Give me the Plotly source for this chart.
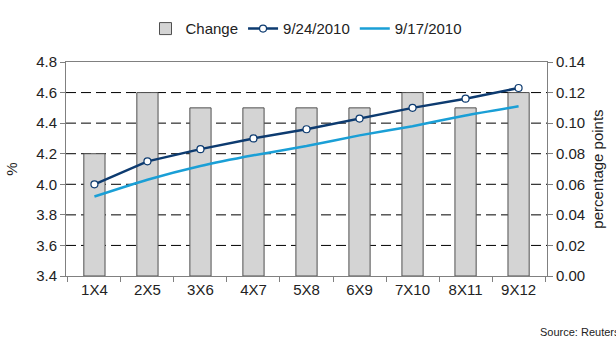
import plotly.graph_objects as go

categories = ["1X4", "2X5", "3X6", "4X7", "5X8", "6X9", "7X10", "8X11", "9X12"]
change = [0.08, 0.12, 0.11, 0.11, 0.11, 0.11, 0.12, 0.11, 0.12]
y_0924 = [4.00, 4.15, 4.23, 4.30, 4.36, 4.43, 4.50, 4.56, 4.63]
y_0917 = [3.92, 4.03, 4.12, 4.19, 4.25, 4.32, 4.38, 4.45, 4.51]
grid_levels = [3.6, 3.8, 4.0, 4.2, 4.4, 4.6]

FONT = "Liberation Sans, Arial, sans-serif"
AXIS = "#808080"

fig = go.Figure()
fig.add_trace(go.Scatter(
    x=categories, y=[None] * len(categories), yaxis="y", mode="lines",
    showlegend=False, hoverinfo="skip",
))
fig.add_trace(go.Bar(
    x=categories, y=change, name="Change", yaxis="y2",
    marker=dict(color="#d4d4d4", line=dict(color="#505050", width=1)),
    width=0.4,
))
fig.add_trace(go.Scatter(
    x=categories, y=y_0924, name="9/24/2010", yaxis="y3", mode="lines+markers",
    line=dict(color="#0d3b70", width=2.5),
    marker=dict(symbol="circle", size=7, color="white", line=dict(color="#0d3b70", width=1.2)),
))
fig.add_trace(go.Scatter(
    x=categories, y=y_0917, name="9/17/2010", yaxis="y3", mode="lines",
    line=dict(color="#1a9fd6", width=2.5, shape="spline", smoothing=0.6),
))

for lvl in grid_levels:
    fig.add_shape(type="line", xref="paper", yref="y", x0=0, x1=1, y0=lvl, y1=lvl,
                  layer="below", line=dict(color="#000000", width=1, dash="10px,5px"))

fig.update_layout(
    width=616, height=343,
    margin=dict(l=63, r=67, t=52, b=67),
    paper_bgcolor="white", plot_bgcolor="white",
    font=dict(family=FONT, size=15, color="#222222"),
    showlegend=True,
    legend=dict(orientation="h", x=0.5, xanchor="center", y=1.155, yanchor="middle",
                font=dict(size=15), itemwidth=30, tracegroupgap=0,
                bgcolor="rgba(0,0,0,0)"),
    xaxis=dict(
        type="category", showline=True, linecolor=AXIS, linewidth=1, mirror=True,
        ticks="outside", ticklen=5, tickcolor=AXIS, tickson="boundaries",
        showgrid=False, tickfont=dict(size=15),
    ),
    yaxis=dict(
        side="left", range=[3.4, 4.8], dtick=0.2, tickformat=".1f",
        showline=True, linecolor=AXIS, linewidth=1,
        ticks="outside", ticklen=5, tickcolor=AXIS,
        showgrid=False, zeroline=False,
        title=dict(text="%", font=dict(size=15), standoff=14),
    ),
    yaxis2=dict(
        side="right", overlaying="y", range=[0, 0.14], dtick=0.02, tickformat=".2f",
        showline=True, linecolor=AXIS, linewidth=1,
        ticks="outside", ticklen=5, tickcolor=AXIS,
        showgrid=False, zeroline=False,
        title=dict(text="percentage points", font=dict(size=15), standoff=8),
    ),
    yaxis3=dict(
        overlaying="y", range=[3.4, 4.8], visible=False, showgrid=False, zeroline=False,
    ),
    annotations=[dict(
        text="Source: Reuters", xref="paper", yref="paper",
        x=(540 - 63) / 486, y=(276 - 335) / 224, xanchor="left", yanchor="middle",
        showarrow=False, font=dict(size=11, color="#222222"),
    )],
)

fig.write_html("out.html")
